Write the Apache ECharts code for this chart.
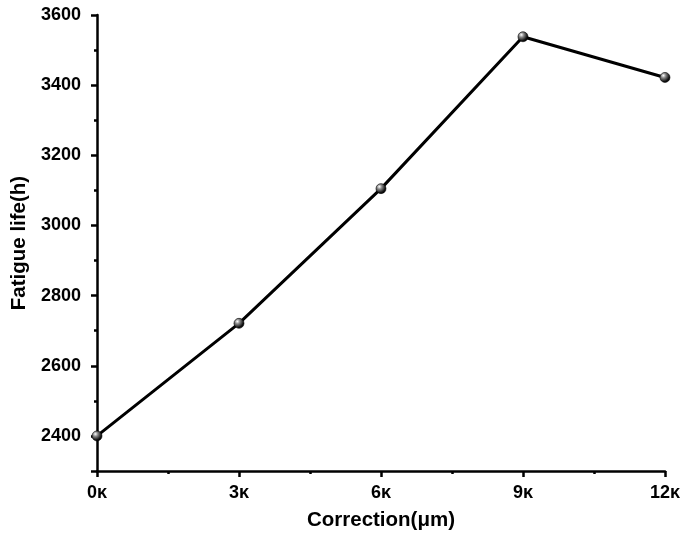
<!DOCTYPE html>
<html>
<head>
<meta charset="utf-8">
<script src="https://cdn.jsdelivr.net/npm/echarts@6/dist/echarts.min.js"></script>
<style>html,body{margin:0;padding:0;background:#fff}#c{width:683px;height:537px}</style>
</head>
<body>
<div id="c"></div>
<script>
const xValues = [0, 3, 6, 9, 12];
const fatigueLife = [2400, 2721, 3105, 3538, 3422];
const xUnit = 'κ';
const xTitle = 'Correction(μm)';
const yTitle = 'Fatigue life(h)';

const FONT = '"Liberation Sans", Arial, sans-serif';
const chart = echarts.init(document.getElementById('c'));
const ball = {
  type: 'radial', x: 0.35, y: 0.32, r: 0.75,
  colorStops: [
    { offset: 0, color: '#ffffff' },
    { offset: 0.3, color: '#8a8a8a' },
    { offset: 0.75, color: '#111111' },
    { offset: 1, color: '#000000' }
  ]
};
chart.setOption({
  animation: false,
  backgroundColor: '#fff',
  grid: { left: 97, right: 17, top: 15, bottom: 66 },
  xAxis: {
    type: 'value', min: 0, max: 12, interval: 3,
    name: xTitle, nameLocation: 'middle', nameGap: 39,
    nameTextStyle: { fontFamily: FONT, fontWeight: 'bold', fontSize: 20.5, color: '#000' },
    axisLine: { lineStyle: { color: '#000', width: 2.5 } },
    axisTick: { show: true, inside: false, length: 6, lineStyle: { color: '#000', width: 2.5 } },
    minorTick: { show: true, splitNumber: 2, length: 3, lineStyle: { color: '#000', width: 2.5 } },
    splitLine: { show: false },
    axisLabel: { fontFamily: FONT, fontWeight: 'bold', fontSize: 18, color: '#000', margin: 13,
      formatter: v => v + xUnit }
  },
  yAxis: [{
    type: 'value', min: 2300, max: 3600, interval: 100,
    name: yTitle, nameLocation: 'middle', nameGap: 64,
    nameTextStyle: { fontFamily: FONT, fontWeight: 'bold', fontSize: 20.5, color: '#000' },
    axisLine: { show: true, lineStyle: { color: '#000', width: 2.5 } },
    axisTick: { show: true, length: 3, lineStyle: { color: '#000', width: 2.5 } },
    splitLine: { show: false },
    axisLabel: { fontFamily: FONT, fontWeight: 'bold', fontSize: 18, color: '#000', margin: 16,
      formatter: v => (v % 200 === 0 ? String(v) : '') }
  }, {
    type: 'value', min: 2300, max: 3600, interval: 200, inverse: true, position: 'left',
    axisLine: { show: false },
    axisTick: { show: true, length: 6, lineStyle: { color: '#000', width: 2.5 } },
    axisLabel: { show: false },
    splitLine: { show: false }
  }],
  series: [{
    type: 'line',
    yAxisIndex: 0,
    data: xValues.map((x, i) => [x, fatigueLife[i]]),
    lineStyle: { color: '#000', width: 3 },
    symbol: 'circle', symbolSize: 10,
    itemStyle: { color: ball, borderColor: '#000', borderWidth: 0.6 },
    z: 5
  }]
});
</script>
</body>
</html>
